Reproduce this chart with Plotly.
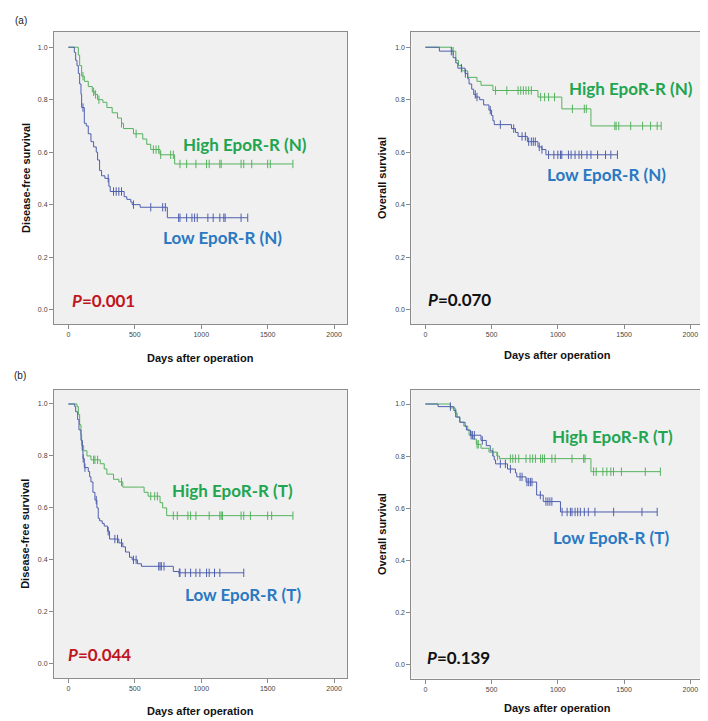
import numpy as np
import plotly.graph_objects as go

# ---------------- data ----------------
# Panel (a) left: Disease-free survival, EpoR-R (N)
hi_dfs_n_t = [75, 85, 100, 120, 150, 180, 200, 220, 260, 290, 330, 370, 400, 415, 490, 560, 590, 620, 690, 800]
hi_dfs_n_s = [0.97, 0.93, 0.89, 0.87, 0.85, 0.83, 0.82, 0.80, 0.79, 0.77, 0.75, 0.73, 0.71, 0.69, 0.67, 0.65, 0.63, 0.61, 0.59, 0.555]
hi_dfs_n_c = [110, 190, 205, 230, 400, 510, 640, 660, 680, 695, 770, 790, 840, 890, 960, 1040, 1060, 1140, 1150, 1300, 1320, 1380, 1500, 1520, 1690]

lo_dfs_n_t = [45, 55, 65, 75, 85, 95, 100, 120, 135, 150, 170, 190, 210, 220, 235, 250, 275, 305, 315, 420, 440, 470, 480, 540, 745]
lo_dfs_n_s = [0.98, 0.95, 0.93, 0.90, 0.86, 0.82, 0.77, 0.71, 0.70, 0.67, 0.64, 0.62, 0.60, 0.57, 0.53, 0.51, 0.50, 0.47, 0.45, 0.43, 0.42, 0.41, 0.40, 0.39, 0.35]
lo_dfs_n_c = [110, 300, 340, 360, 380, 400, 490, 620, 710, 730, 830, 840, 890, 930, 950, 970, 1050, 1090, 1140, 1170, 1180, 1300, 1350]

# Panel (a) right: Overall survival, EpoR-R (N)
hi_os_n_t = [200, 230, 250, 275, 320, 390, 420, 510, 850, 1030, 1250]
hi_os_n_s = [0.985, 0.95, 0.93, 0.91, 0.885, 0.87, 0.855, 0.835, 0.81, 0.765, 0.70]
hi_os_n_c = [210, 530, 615, 700, 720, 740, 760, 780, 800, 870, 900, 930, 975, 1110, 1200, 1215, 1430, 1440, 1460, 1550, 1640, 1700, 1750, 1780]

lo_os_n_t = [106, 210, 230, 245, 300, 320, 330, 350, 365, 380, 410, 440, 480, 500, 510, 520, 650, 680, 700, 770, 850, 880, 910]
lo_os_n_s = [0.985, 0.96, 0.94, 0.92, 0.90, 0.88, 0.86, 0.84, 0.82, 0.81, 0.80, 0.78, 0.76, 0.74, 0.72, 0.705, 0.69, 0.675, 0.66, 0.64, 0.62, 0.61, 0.59]
lo_os_n_c = [196, 272, 302, 377, 390, 490, 566, 667, 730, 755, 780, 800, 815, 830, 860, 880, 930, 970, 1000, 1020, 1030, 1080, 1100, 1130, 1160, 1180, 1220, 1250, 1300, 1360, 1400, 1450]

# Panel (b) left: Disease-free survival, EpoR-R (T)
hi_dfs_t_t = [65, 75, 85, 95, 100, 115, 140, 170, 240, 270, 290, 340, 380, 410, 570, 600, 690, 710, 740]
hi_dfs_t_s = [0.99, 0.96, 0.92, 0.88, 0.84, 0.82, 0.80, 0.785, 0.77, 0.75, 0.73, 0.71, 0.70, 0.68, 0.66, 0.645, 0.62, 0.60, 0.57]
hi_dfs_t_c = [105, 190, 200, 220, 400, 620, 650, 670, 790, 820, 900, 920, 960, 1060, 1140, 1150, 1160, 1300, 1320, 1370, 1500, 1530, 1690]

lo_dfs_t_t = [48, 55, 70, 80, 95, 105, 110, 120, 150, 160, 170, 185, 200, 215, 225, 235, 255, 270, 295, 310, 380, 410, 430, 460, 480, 520, 550, 790, 830]
lo_dfs_t_s = [0.99, 0.97, 0.94, 0.90, 0.86, 0.82, 0.79, 0.755, 0.74, 0.72, 0.70, 0.66, 0.63, 0.60, 0.56, 0.55, 0.54, 0.53, 0.51, 0.48, 0.465, 0.45, 0.43, 0.41, 0.40, 0.385, 0.375, 0.355, 0.35]
lo_dfs_t_c = [112, 125, 210, 300, 350, 370, 400, 490, 510, 680, 690, 700, 720, 835, 840, 880, 920, 960, 990, 1040, 1060, 1100, 1140, 1320]

# Panel (b) right: Overall survival, EpoR-R (T)
hi_os_t_t = [189, 225, 240, 260, 290, 320, 330, 360, 385, 420, 480, 540, 560, 1250]
hi_os_t_s = [0.985, 0.965, 0.95, 0.93, 0.915, 0.90, 0.88, 0.865, 0.845, 0.83, 0.815, 0.80, 0.79, 0.74]
hi_os_t_c = [230, 390, 400, 510, 545, 642, 660, 680, 705, 760, 790, 810, 831, 870, 885, 900, 955, 980, 1107, 1195, 1205, 1270, 1290, 1340, 1370, 1400, 1420, 1480, 1660, 1774]

lo_os_t_t = [96, 215, 230, 260, 300, 310, 340, 420, 460, 490, 510, 520, 530, 620, 680, 690, 760, 840, 890, 1020]
lo_os_t_s = [0.99, 0.975, 0.95, 0.93, 0.915, 0.90, 0.88, 0.86, 0.84, 0.82, 0.80, 0.785, 0.77, 0.75, 0.735, 0.72, 0.70, 0.65, 0.625, 0.585]
lo_os_t_c = [189, 345, 355, 370, 430, 566, 604, 642, 715, 730, 767, 780, 793, 805, 868, 910, 925, 940, 955, 1032, 1070, 1095, 1107, 1130, 1150, 1170, 1200, 1230, 1280, 1421, 1635, 1750]

x_ticks = [0, 500, 1000, 1500, 2000]
y_ticks = [0.0, 0.2, 0.4, 0.6, 0.8, 1.0]
y_tick_labels = ["0.0", "0.2", "0.4", "0.6", "0.8", "1.0"]

panel_titles_y = ["Disease-free survival", "Overall survival", "Disease-free survival", "Overall survival"]
high_labels = ["High EpoR-R (N)", "High EpoR-R (N)", "High EpoR-R (T)", "High EpoR-R (T)"]
low_labels = ["Low EpoR-R (N)", "Low EpoR-R (N)", "Low EpoR-R (T)", "Low EpoR-R (T)"]
p_values = ["0.001", "0.070", "0.044", "0.139"]

# ---------------- styling ----------------
GREEN_LINE = "#55b25e"
BLUE_LINE = "#4f5fae"
GREEN_TEXT = "#22a550"
BLUE_TEXT = "#2a79c2"
RED_TEXT = "#c0161e"

W, H = 708, 721
# panel boxes in pixels: (left, right, top, bottom)
boxes = [(46, 339, 24, 316), (403.3, 695.7, 24, 316), (46, 339, 381.7, 670), (403.3, 695.7, 381.7, 670.5)]
xranges = [[-108, 2097], [-106, 2101], [-108, 2097], [-106, 2101]]
yranges = [[-0.055, 1.058], [-0.055, 1.058], [-0.055, 1.055], [-0.055, 1.055]]

series = [
    ((hi_dfs_n_t, hi_dfs_n_s, hi_dfs_n_c), (lo_dfs_n_t, lo_dfs_n_s, lo_dfs_n_c)),
    ((hi_os_n_t, hi_os_n_s, hi_os_n_c), (lo_os_n_t, lo_os_n_s, lo_os_n_c)),
    ((hi_dfs_t_t, hi_dfs_t_s, hi_dfs_t_c), (lo_dfs_t_t, lo_dfs_t_s, lo_dfs_t_c)),
    ((hi_os_t_t, hi_os_t_s, hi_os_t_c), (lo_os_t_t, lo_os_t_s, lo_os_t_c)),
]

# label positions in data coords (x, y)
high_pos = [(1333, 0.628), (1549, 0.841), (1239, 0.665), (1409, 0.877)]
low_pos = [(1160, 0.273), (1368, 0.514), (1311, 0.265), (1398, 0.488)]
p_pos = [(15, 0.033), (5, 0.040), (-20, 0.034), (-2, 0.026)]
p_colors = [RED_TEXT, "#111111", RED_TEXT, "#111111"]

fig = go.Figure()


def km_xy(t, s, c):
    last = max(max(c), max(t))
    xs = [0] + list(t) + [last]
    ys = [1.0] + list(s) + [s[-1]]
    tt = np.array(t)
    ss = np.concatenate([[1.0], np.array(s)])
    idx = np.searchsorted(tt, np.array(c), side="right")
    cy = ss[idx]
    return xs, ys, list(c), list(cy)


annotations = []
for i in range(4):
    ax = "" if i == 0 else str(i + 1)
    xref = "x" + ax
    yref = "y" + ax
    l, r, t, b = boxes[i]
    dom_x = [l / W, r / W]
    dom_y = [1 - b / H, 1 - t / H]
    fig.update_layout(**{
        "xaxis" + ax: dict(domain=dom_x, range=xranges[i], tickvals=x_ticks, ticks="outside", ticklen=4,
                           tickcolor="#8a8a8a", tickfont=dict(family="Arial", size=7, color="#444444"),
                           showgrid=False, zeroline=False, showline=True, linecolor="#8c8c8c", linewidth=1,
                           mirror=True, anchor=yref),
        "yaxis" + ax: dict(domain=dom_y, range=yranges[i], tickvals=y_ticks, ticktext=y_tick_labels,
                           ticks="outside", ticklen=4, tickcolor="#8a8a8a",
                           tickfont=dict(family="Arial", size=7, color="#444444"),
                           showgrid=False, zeroline=False, showline=True, linecolor="#8c8c8c", linewidth=1,
                           mirror=True, anchor=xref),
    })
    fig.add_shape(type="rect", xref=xref + " domain", yref=yref + " domain", x0=0, x1=1, y0=0, y1=1,
                  fillcolor="#f0f0f0", line=dict(width=0), layer="below")
    for (tt, ss, cc), col in zip(series[i], [GREEN_LINE, BLUE_LINE]):
        xs, ys, cx, cy = km_xy(tt, ss, cc)
        fig.add_trace(go.Scatter(x=xs, y=ys, mode="lines", line=dict(color=col, width=1, shape="hv"),
                                 xaxis=xref, yaxis=yref, showlegend=False, hoverinfo="skip"))
        fig.add_trace(go.Scatter(x=cx, y=cy, mode="markers",
                                 marker=dict(symbol="line-ns-open", size=6, color=col,
                                             line=dict(color=col, width=1)),
                                 xaxis=xref, yaxis=yref, showlegend=False, hoverinfo="skip"))
    annotations.append(dict(x=high_pos[i][0], y=high_pos[i][1], xref=xref, yref=yref,
                            text="<b>" + high_labels[i] + "</b>",
                            showarrow=False, font=dict(family="Lato", size=17, color=GREEN_TEXT),
                            xanchor="center", yanchor="middle"))
    annotations.append(dict(x=low_pos[i][0], y=low_pos[i][1], xref=xref, yref=yref,
                            text="<b>" + low_labels[i] + "</b>",
                            showarrow=False, font=dict(family="Lato", size=17, color=BLUE_TEXT),
                            xanchor="center", yanchor="middle"))
    annotations.append(dict(x=p_pos[i][0], y=p_pos[i][1], xref=xref, yref=yref,
                            text="<b><i>P</i>=" + p_values[i] + "</b>",
                            showarrow=False, font=dict(family="Lato", size=17, color=p_colors[i]),
                            xanchor="left", yanchor="middle"))
    xt_y = [350, 347, 703, 700][i]
    xt_x = (l + r) / 2
    annotations.append(dict(x=xt_x / W, y=1 - xt_y / H, xref="paper", yref="paper",
                            text="<b>Days after operation</b>", showarrow=False,
                            font=dict(family="Arial", size=11, color="#111111"),
                            xanchor="center", yanchor="middle"))
    yt_x = [18, 374, 17, 374][i]
    yt_y = (t + b) / 2
    annotations.append(dict(x=yt_x / W, y=1 - yt_y / H, xref="paper", yref="paper",
                            text="<b>" + panel_titles_y[i] + "</b>", showarrow=False, textangle=-90,
                            font=dict(family="Arial", size=11, color="#111111"),
                            xanchor="center", yanchor="middle"))

annotations.append(dict(x=13 / W, y=1 - 13 / H, xref="paper", yref="paper", text="(a)", showarrow=False,
                        font=dict(family="Arial", size=10, color="#222222"), xanchor="center", yanchor="middle"))
annotations.append(dict(x=12 / W, y=1 - 367 / H, xref="paper", yref="paper", text="(b)", showarrow=False,
                        font=dict(family="Arial", size=10, color="#222222"), xanchor="center", yanchor="middle"))

fig.update_layout(width=W, height=H, margin=dict(l=0, r=0, t=0, b=0), paper_bgcolor="white",
                  plot_bgcolor="rgba(0,0,0,0)", annotations=annotations, showlegend=False)

fig.write_html("out.html")
